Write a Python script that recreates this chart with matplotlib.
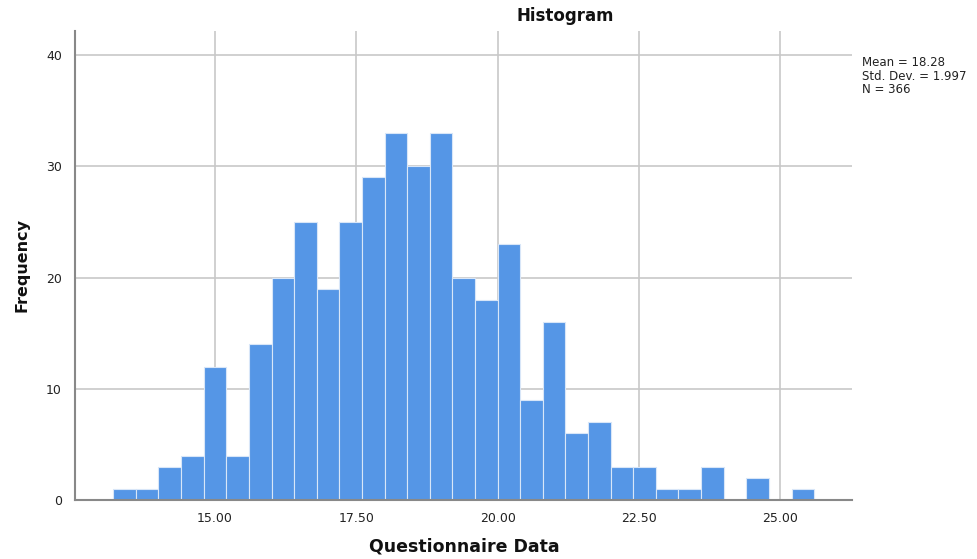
import matplotlib
matplotlib.use("Agg")
import matplotlib.pyplot as plt
import numpy as np

plt.rcParams['font.family'] = ['DejaVu Sans']

bin_start = 13.2
bin_width = 0.4
counts = [1, 1, 3, 4, 12, 4, 14, 20, 25, 19, 25, 29, 33, 30, 33, 20, 18, 23,
          9, 16, 6, 7, 3, 3, 1, 1, 3, 0, 2, 0, 1]
x_ticks = [15.0, 17.5, 20.0, 22.5, 25.0]
y_ticks = [0, 10, 20, 30, 40]
stats_text = "Mean = 18.28\nStd. Dev. = 1.997\nN = 366"

edges = bin_start + bin_width * np.arange(len(counts) + 1)

fig = plt.figure(figsize=(9.77, 5.59), dpi=100)
ax = fig.add_axes([74.5/977, 59/559, (852-74.5)/977, (500-31)/559])

ax.set_axisbelow(True)
ax.grid(True, color='#c8c8c8', linewidth=1.2)
ax.bar(edges[:-1], counts, width=bin_width, align='edge', color='#5596e6',
       edgecolor='#d8e6f8', linewidth=0.8)

ax.set_xlim(12.514, 26.27)
ax.set_ylim(0, 42.16)
ax.set_xticks(x_ticks)
ax.set_xticklabels([f"{t:.2f}" for t in x_ticks], fontsize=9, color='#222222')
ax.set_yticks(y_ticks)
ax.set_yticklabels([str(t) for t in y_ticks], fontsize=9, color='#222222')
ax.tick_params(axis='x', length=0, pad=9)
ax.tick_params(axis='y', length=0, pad=9)

for s in ['top', 'right']:
    ax.spines[s].set_visible(False)
for s in ['left', 'bottom']:
    ax.spines[s].set_color('#888888')
    ax.spines[s].set_linewidth(1.5)

fig.text(565/977, 1 - 16/559, "Histogram", ha='center', va='center',
         fontsize=12, fontweight='bold', color='#111111')
fig.text(464/977, 1 - 546/559, "Questionnaire Data", ha='center', va='center',
         fontsize=12.5, fontweight='bold', color='#111111')
fig.text(22/977, 1 - 265/559, "Frequency", ha='center', va='center', rotation=90,
         fontsize=11.5, fontweight='bold', color='#111111')
fig.text(862/977, 1 - 56/559, stats_text, ha='left', va='top', fontsize=8.5,
         color='#222222', linespacing=1.05)

fig.savefig("out.png", dpi=100)
